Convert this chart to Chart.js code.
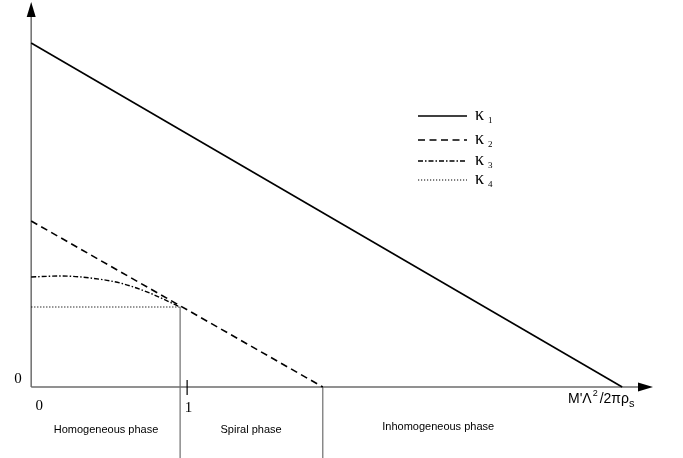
<!DOCTYPE html>
<html>
<head>
<meta charset="utf-8">
<script src="https://cdn.jsdelivr.net/npm/chart.js@4/dist/chart.umd.min.js"></script>
<style>
  html, body { margin:0; padding:0; background:#fff; }
  #wrap { width:683px; height:458px; }
</style>
</head>
<body>
<div id="wrap"><canvas id="c"></canvas></div>
<script>
// ---- data (x in units of M'Λ²/2πρs, y arbitrary) ----
var seriesNames = ['κ1', 'κ2', 'κ3', 'κ4'];
var k1X = [0, 3.79];
var k1Y = [3.44, 0];
var k2X = [0, 1.87];
var k2Y = [1.66, 0];
var k3X = [0, 0.19, 0.38, 0.57, 0.76, 0.955];
var k3Y = [1.10, 1.11, 1.09, 1.04, 0.94, 0.80];
var k4X = [0, 0.955];
var k4Y = [0.80, 0.80];
var phaseBounds = [0.955, 1.87];
var phaseNames = ['Homogeneous phase', 'Spiral phase', 'Inhomogeneous phase'];
var phaseCenters = [0.48, 1.41, 2.61];
var xTicks = [0, 1];
var yTicks = [0];

function pts(xs, ys) {
  return xs.map(function(x, i) { return { x: x, y: ys[i] }; });
}

var styles = [
  { dash: [], width: 1.6 },
  { dash: [7, 4.5], width: 1.6 },
  { dash: [5, 2, 1.5, 2], width: 1.4 },
  { dash: [1.2, 1.8], width: 1.2 }
];

var diagram = {
  id: 'diagram',
  beforeDatasetsDraw: function(chart) {
    var ctx = chart.ctx, xs = chart.scales.x, ys = chart.scales.y;
    var ox = xs.getPixelForValue(0), oy = ys.getPixelForValue(0);
    ctx.save();
    ctx.strokeStyle = '#6e6e6e';
    ctx.fillStyle = '#000';
    ctx.lineWidth = 1.5;
    // axes
    ctx.beginPath();
    ctx.moveTo(ox, oy); ctx.lineTo(ox, 10);
    ctx.moveTo(ox, oy); ctx.lineTo(645, oy);
    ctx.stroke();
    // arrow heads
    ctx.beginPath();
    ctx.moveTo(ox, 2); ctx.lineTo(ox - 4.5, 17); ctx.lineTo(ox + 4.5, 17); ctx.closePath();
    ctx.fill();
    ctx.beginPath();
    ctx.moveTo(653, oy); ctx.lineTo(638, oy - 4.5); ctx.lineTo(638, oy + 4.5); ctx.closePath();
    ctx.fill();
    // phase boundaries
    ctx.lineWidth = 1.2;
    ctx.beginPath();
    var b0 = xs.getPixelForValue(phaseBounds[0]);
    ctx.moveTo(b0, ys.getPixelForValue(k4Y[1])); ctx.lineTo(b0, 458);
    var b1 = xs.getPixelForValue(phaseBounds[1]);
    ctx.moveTo(b1, oy); ctx.lineTo(b1, 458);
    ctx.stroke();
    // tick at 1
    ctx.strokeStyle = '#000';
    ctx.lineWidth = 1.2;
    ctx.beginPath();
    var t1 = xs.getPixelForValue(xTicks[1]);
    ctx.moveTo(t1, oy - 7); ctx.lineTo(t1, oy + 8);
    ctx.stroke();
    // tick labels
    ctx.font = '15px "Liberation Serif"';
    ctx.textAlign = 'center';
    ctx.textBaseline = 'middle';
    ctx.fillText(String(xTicks[0]), ox + 8, oy + 19);
    ctx.fillText(String(xTicks[1]), t1 + 1.5, oy + 21);
    ctx.fillText(String(yTicks[0]), 18, oy - 8);
    // axis label M'Λ²/2πρs
    ctx.textAlign = 'left';
    ctx.textBaseline = 'alphabetic';
    ctx.font = '14px "Liberation Sans"';
    var x = 568, y = 403;
    ctx.fillText("M'Λ", x, y); x += ctx.measureText("M'Λ").width + 1;
    ctx.font = '9px "Liberation Sans"';
    ctx.fillText('2', x, y - 7); x += ctx.measureText('2').width + 2;
    ctx.font = '14px "Liberation Sans"';
    ctx.fillText('/2πρ', x, y); x += ctx.measureText('/2πρ').width;
    ctx.font = '11px "Liberation Sans"';
    ctx.fillText('s', x, y + 4);
    // phase labels
    ctx.font = '11px "Liberation Sans"';
    ctx.textAlign = 'center';
    ctx.textBaseline = 'middle';
    phaseNames.forEach(function(n, i) {
      var py = i === 2 ? 427 : 430;
      ctx.fillText(n, xs.getPixelForValue(phaseCenters[i]), py);
    });
    // legend
    var ly = [116, 140, 161, 180];
    seriesNames.forEach(function(n, i) {
      ctx.strokeStyle = '#000';
      ctx.lineWidth = styles[i].width;
      ctx.setLineDash(styles[i].dash);
      ctx.beginPath();
      ctx.moveTo(418, ly[i]); ctx.lineTo(467, ly[i]);
      ctx.stroke();
      ctx.setLineDash([]);
      ctx.textAlign = 'left';
      ctx.textBaseline = 'alphabetic';
      ctx.font = '18px "Liberation Serif"';
      ctx.fillText(n.charAt(0), 475, ly[i] + 4);
      ctx.font = '9px "Liberation Serif"';
      ctx.fillText(n.charAt(1), 488, ly[i] + 7);
    });
    ctx.restore();
  }
};

var allX = [k1X, k2X, k3X, k4X], allY = [k1Y, k2Y, k3Y, k4Y];
new Chart(document.getElementById('c'), {
  type: 'scatter',
  data: {
    datasets: seriesNames.map(function(n, i) {
      return {
        label: n,
        data: pts(allX[i], allY[i]),
        showLine: true,
        borderColor: '#000',
        borderWidth: styles[i].width,
        borderDash: styles[i].dash,
        pointRadius: 0,
        tension: i === 2 ? 0.4 : 0,
        cubicInterpolationMode: i === 2 ? 'monotone' : 'default'
      };
    })
  },
  options: {
    responsive: true,
    maintainAspectRatio: false,
    animation: false,
    layout: { padding: 0 },
    plugins: { legend: { display: false }, tooltip: { enabled: false } },
    scales: {
      x: { type: 'linear', display: false, min: -0.2, max: 4.18 },
      y: { type: 'linear', display: false, min: -0.71, max: 3.87 }
    }
  },
  plugins: [diagram]
});
</script>
</body>
</html>
